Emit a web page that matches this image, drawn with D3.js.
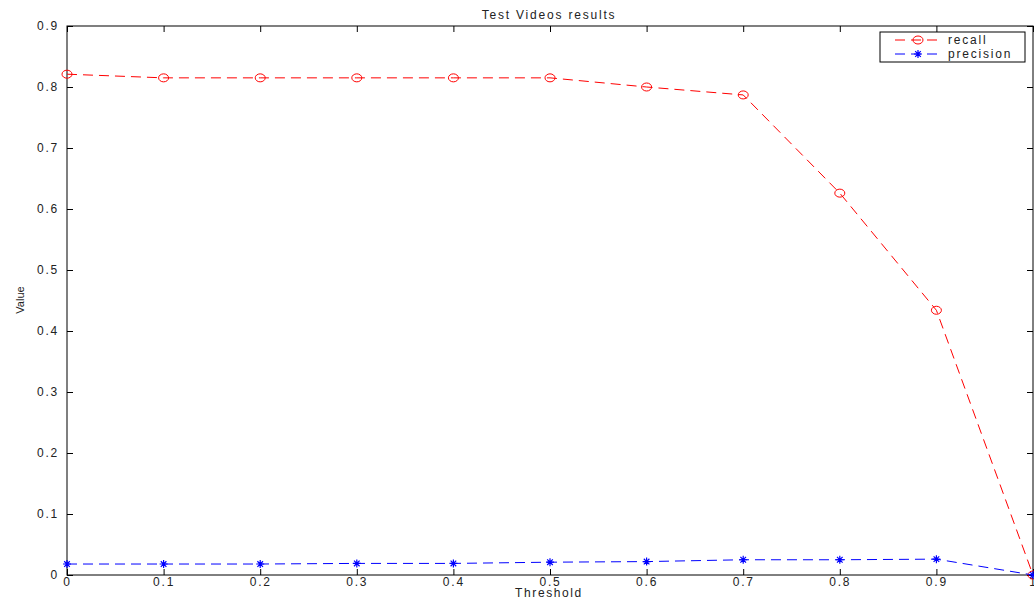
<!DOCTYPE html>
<html><head><meta charset="utf-8">
<script src="https://cdn.jsdelivr.net/npm/d3@7"></script>
<style>
body{margin:0;background:#fff;}
text{font-family:"Liberation Sans",Arial,sans-serif;}
</style></head>
<body><svg id="c" width="1034" height="601"></svg>
<script>
const thresholds = [0,0.1,0.2,0.3,0.4,0.5,0.6,0.7,0.8,0.9,1];
const recall = [0.821,0.815,0.815,0.815,0.815,0.815,0.800,0.787,0.626,0.434,0];
const precision = [0.018,0.018,0.018,0.019,0.019,0.021,0.022,0.025,0.025,0.026,0];
const xTicks = [0,0.1,0.2,0.3,0.4,0.5,0.6,0.7,0.8,0.9,1];
const yTicks = [0,0.1,0.2,0.3,0.4,0.5,0.6,0.7,0.8,0.9];
const seriesNames = ["recall","precision"];

const svg = d3.select("#c");
const L=67,R=1033,T=26,B=575;
const x = d3.scaleLinear().domain([0,1]).range([L,R]);
const y = d3.scaleLinear().domain([0,0.9]).range([B,T]);
const tl = 6;

const g = svg.append("g");
g.append("rect").attr("x",L).attr("y",T).attr("width",R-L).attr("height",B-T)
 .attr("fill","none").attr("stroke","#000").attr("stroke-width",1);

const fmt = d => d===0?"0":d===1?"1":d3.format(".1f")(d);
const axB = d3.axisBottom(x).tickValues(xTicks).tickSize(-tl).tickPadding(2).tickFormat(fmt);
const axT = d3.axisTop(x).tickValues(xTicks).tickSize(-tl).tickFormat("");
const axL = d3.axisLeft(y).tickValues(yTicks).tickSize(-tl).tickPadding(8).tickFormat(fmt);
const axR = d3.axisRight(y).tickValues(yTicks).tickSize(-tl).tickFormat("");
function style(sel){sel.select(".domain").remove();sel.selectAll("line").attr("stroke","#000");
 sel.selectAll("text").attr("font-size",12).attr("fill","#222").attr("letter-spacing","1.8px").attr("font-family","Liberation Sans,Arial,sans-serif");}
g.append("g").attr("transform",`translate(0,${B})`).call(axB).call(style);
g.append("g").attr("transform",`translate(0,${T})`).call(axT).call(style);
g.append("g").attr("transform",`translate(${L},0)`).call(axL).call(style);
g.append("g").attr("transform",`translate(${R},0)`).call(axR).call(style);
// x tick labels: letter-spacing trailing offset compensation
g.selectAll("text").filter(function(){return this.getAttribute("text-anchor")==="middle";}).attr("dx","0.9px");

svg.append("text").attr("x",549).attr("y",19).attr("text-anchor","middle").attr("font-size",12).attr("letter-spacing","1.8px").attr("fill","#222").text("Test Videos results");
svg.append("text").attr("x",549).attr("y",597).attr("text-anchor","middle").attr("font-size",12).attr("letter-spacing","1.6px").attr("fill","#222").text("Threshold");
svg.append("text").attr("transform","translate(24,300) rotate(-90)").attr("text-anchor","middle").attr("font-size",11).attr("fill","#222").text("Value");

const line = d3.line().x((d,i)=>x(thresholds[i])).y(d=>y(d));
const data = [{v:recall,c:"#ff0000",m:"o"},{v:precision,c:"#0000ff",m:"*"}];
function marker(sel,m,c){
 if(m==="o"){sel.append("ellipse").attr("rx",5).attr("ry",4).attr("fill","none").attr("stroke",c).attr("stroke-width",1);}
 else{
  const s=4;
  sel.append("path").attr("d",`M${-s},0H${s}M0,${-s}V${s}M${-s*0.7},${-s*0.7}L${s*0.7},${s*0.7}M${-s*0.7},${s*0.7}L${s*0.7},${-s*0.7}`)
   .attr("stroke",c).attr("stroke-width",1.2).attr("fill","none");
 }
}
data.forEach(s=>{
 g.append("path").attr("d",line(s.v)).attr("fill","none").attr("stroke",s.c).attr("stroke-width",1).attr("stroke-dasharray","10,6");
 s.v.forEach((v,i)=>{const mg=g.append("g").attr("transform",`translate(${x(thresholds[i])},${y(v)})`);marker(mg,s.m,s.c);});
});

// legend
const lg = svg.append("g");
lg.append("rect").attr("x",880).attr("y",32).attr("width",145).attr("height",30).attr("fill","#fff").attr("stroke","#000");
data.forEach((s,i)=>{
 const yy=40+i*14;
 lg.append("line").attr("x1",895).attr("x2",942).attr("y1",yy).attr("y2",yy).attr("stroke",s.c).attr("stroke-dasharray","10,6");
 const mg=lg.append("g").attr("transform",`translate(918,${yy})`);marker(mg,s.m,s.c);
 lg.append("text").attr("x",948).attr("y",yy+4).attr("font-size",12).attr("letter-spacing","1.8px").attr("fill","#222").text(seriesNames[i]);
});
</script></body></html>
